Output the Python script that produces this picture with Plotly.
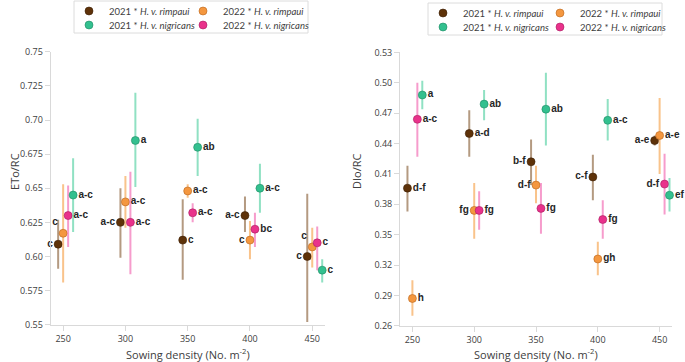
import plotly.graph_objects as go

# ---------------- data ----------------
densities = [250, 300, 350, 400, 450]
series_names = ["2021 * <i>H. v. rimpaui</i>", "2022 * <i>H. v. rimpaui</i>",
                "2021 * <i>H. v. nigricans</i>", "2022 * <i>H. v. nigricans</i>"]
x_offsets = [-4, 0, 8, 4]  # brown, orange, green, pink (dodge)

# ETo/RC (left panel): mean, lower, upper
eto_r21 = [0.609, 0.625, 0.612, 0.630, 0.600]
eto_r21_lo = [0.591, 0.599, 0.583, 0.618, 0.552]
eto_r21_hi = [0.627, 0.650, 0.642, 0.644, 0.646]
eto_r22 = [0.617, 0.640, 0.648, 0.612, 0.607]
eto_r22_lo = [0.581, 0.621, 0.643, 0.598, 0.592]
eto_r22_hi = [0.653, 0.659, 0.653, 0.626, 0.621]
eto_n21 = [0.645, 0.685, 0.680, 0.650, 0.590]
eto_n21_lo = [0.618, 0.651, 0.659, 0.632, 0.581]
eto_n21_hi = [0.672, 0.720, 0.701, 0.668, 0.598]
eto_n22 = [0.630, 0.625, 0.632, 0.620, 0.610]
eto_n22_lo = [0.607, 0.587, 0.625, 0.607, 0.590]
eto_n22_hi = [0.652, 0.662, 0.639, 0.632, 0.622]
eto_lab_r21 = ["c", "a-c", "c", "a-c", "c"]
eto_lab_r22 = ["c", "a-c", "a-c", "c", "c"]
eto_lab_n21 = ["a-c", "a", "ab", "a-c", "c"]
eto_lab_n22 = ["a-c", "a-c", "a-c", "bc", "c"]

# DIo/RC (right panel)
dio_r21 = [0.396, 0.450, 0.422, 0.407, 0.443]
dio_r21_lo = [0.373, 0.427, 0.399, 0.384, 0.438]
dio_r21_hi = [0.418, 0.473, 0.444, 0.429, 0.448]
dio_r22 = [0.287, 0.374, 0.399, 0.326, 0.448]
dio_r22_lo = [0.270, 0.346, 0.381, 0.310, 0.410]
dio_r22_hi = [0.305, 0.401, 0.418, 0.343, 0.485]
dio_n21 = [0.488, 0.479, 0.474, 0.463, 0.389]
dio_n21_lo = [0.474, 0.463, 0.438, 0.443, 0.373]
dio_n21_hi = [0.502, 0.493, 0.510, 0.484, 0.406]
dio_n22 = [0.464, 0.374, 0.376, 0.365, 0.400]
dio_n22_lo = [0.427, 0.355, 0.351, 0.346, 0.370]
dio_n22_hi = [0.500, 0.393, 0.401, 0.384, 0.430]
dio_lab_r21 = ["d-f", "a-d", "b-f", "c-f", "a-e"]
dio_lab_r22 = ["h", "fg", "d-f", "gh", "a-e"]
dio_lab_n21 = ["a", "ab", "ab", "a-c", "ef"]
dio_lab_n22 = ["a-c", "fg", "fg", "fg", "d-f"]

eto_ticks = [0.55, 0.575, 0.60, 0.625, 0.65, 0.675, 0.70, 0.725, 0.75]
eto_ticktext = ["0.55", "0.575", "0.60", "0.625", "0.65", "0.675", "0.70", "0.725", "0.75"]
dio_ticks = [0.26, 0.29, 0.32, 0.35, 0.38, 0.41, 0.44, 0.47, 0.50, 0.53]

# ---------------- styles ----------------
marker_colors = ["#5e3209", "#f4973f", "#33c08f", "#e9328b"]
bar_colors = ["rgba(140,100,62,0.65)", "rgba(247,170,90,0.7)",
              "rgba(70,205,155,0.6)", "rgba(240,90,170,0.6)"]
outline_colors = ["#3d2006", "#b8651c", "#1f8a63", "#a81d61"]
L = "middle left"
R = "middle right"
eto_pos = [
    [L, L, R, L, L],
    ["top left", R, R, L, "top left"],
    [R, R, R, R, R],
    [R, R, R, R, R],
]
dio_pos = [
    [R, R, L, L, L],
    [R, L, L, R, R],
    [R, R, R, R, R],
    [R, R, R, R, L],
]

eto = [(eto_r21, eto_r21_lo, eto_r21_hi, eto_lab_r21),
       (eto_r22, eto_r22_lo, eto_r22_hi, eto_lab_r22),
       (eto_n21, eto_n21_lo, eto_n21_hi, eto_lab_n21),
       (eto_n22, eto_n22_lo, eto_n22_hi, eto_lab_n22)]
dio = [(dio_r21, dio_r21_lo, dio_r21_hi, dio_lab_r21),
       (dio_r22, dio_r22_lo, dio_r22_hi, dio_lab_r22),
       (dio_n21, dio_n21_lo, dio_n21_hi, dio_lab_n21),
       (dio_n22, dio_n22_lo, dio_n22_hi, dio_lab_n22)]

W, H = 685, 362
fig = go.Figure()
draw_order = [0, 1, 3, 2]  # brown, orange, pink, green (green on top)
# one legend per entry: (marker x, marker y) in pixels for each series
panels = [(eto, eto_pos, "x", "y", 0, [(89, 11), (203, 11), (89, 25), (203, 25)]),
          (dio, dio_pos, "x2", "y2", 4, [(443, 13), (560, 13), (443, 27), (560, 27)])]
legends = {}
for data, pos, xa, ya, lbase, legpos in panels:
    for i in draw_order:
        mean, lo, hi, lab = data[i]
        xs = [d + x_offsets[i] for d in densities]
        lname = "legend" if lbase + i == 0 else "legend%d" % (lbase + i + 1)
        mx, my = legpos[i]
        legends[lname] = dict(orientation="h", xanchor="left", yanchor="middle",
                              x=(mx - 20) / W, y=1 - my / H,
                              bgcolor="rgba(0,0,0,0)", borderwidth=0,
                              font=dict(family="Lato", size=9.5, color="#404040"))
        fig.add_trace(go.Scatter(
            x=xs, y=mean, mode="markers",
            marker=dict(size=8, color=marker_colors[i],
                        line=dict(width=0.6, color=outline_colors[i])),
            error_y=dict(type="data", symmetric=False,
                         array=[h - m for h, m in zip(hi, mean)],
                         arrayminus=[m - l for m, l in zip(mean, lo)],
                         color=bar_colors[i], thickness=2, width=0),
            name=series_names[i],
            legend=lname,
            xaxis=xa, yaxis=ya,
            cliponaxis=False,
        ))
    for i in draw_order:
        mean, lo, hi, lab = data[i]
        xs = [d + x_offsets[i] for d in densities]
        fig.add_trace(go.Scatter(
            x=xs, y=mean, mode="markers+text", text=lab, textposition=pos[i],
            marker=dict(size=7, opacity=0),
            textfont=dict(family="Liberation Sans", size=10,
                          color="#262626", weight="bold"),
            showlegend=False, hoverinfo="skip",
            xaxis=xa, yaxis=ya, cliponaxis=False,
        ))

axis_common = dict(showline=True, linecolor="#d9d9d9", linewidth=1, ticks="outside",
                   ticklen=5, tickcolor="#d9d9d9", showgrid=False, zeroline=False,
                   tickfont=dict(family="Open Sans", size=9, color="#404040"))

title_font = dict(family="Open Sans", size=11, color="#404040")
fig.update_layout(
    width=W, height=H,
    margin=dict(l=0, r=0, t=0, b=0, autoexpand=False),
    paper_bgcolor="white", plot_bgcolor="white",
    showlegend=True,
    xaxis=dict(domain=[0.074, 0.474], range=[240, 460], tickvals=densities, anchor="y", **axis_common),
    yaxis=dict(domain=[0.103, 0.857], range=[0.55, 0.75], tickvals=eto_ticks, ticktext=eto_ticktext,
               anchor="x", **axis_common),
    xaxis2=dict(domain=[0.584, 0.981], range=[240, 460], tickvals=densities, anchor="y2", **axis_common),
    yaxis2=dict(domain=[0.100, 0.855], range=[0.26, 0.53], tickvals=dio_ticks, tickformat=".2f",
                anchor="x2", **axis_common),
    shapes=[
        dict(type="rect", xref="paper", yref="paper", x0=74 / W, x1=308 / W,
             y0=1 - 33 / H, y1=1 - 1 / H, line=dict(color="#dcdcdc", width=1),
             fillcolor="white", layer="below"),
        dict(type="rect", xref="paper", yref="paper", x0=428 / W, x1=662 / W,
             y0=1 - 35 / H, y1=1 - 3 / H, line=dict(color="#dcdcdc", width=1),
             fillcolor="white", layer="below"),
    ],
    annotations=[
        dict(text="ETo/RC", x=15 / W, y=0.525, xref="paper", yref="paper", textangle=-90,
             xanchor="center", yanchor="middle", showarrow=False, font=title_font),
        dict(text="DIo/RC", x=357 / W, y=0.525, xref="paper", yref="paper", textangle=-90,
             xanchor="center", yanchor="middle", showarrow=False, font=title_font),
        dict(text="Sowing density (No. m<sup>-2</sup>)", x=0.274, y=1 - 354 / H, xref="paper", yref="paper",
             xanchor="center", yanchor="middle", showarrow=False, font=title_font),
        dict(text="Sowing density (No. m<sup>-2</sup>)", x=0.783, y=1 - 354 / H, xref="paper", yref="paper",
             xanchor="center", yanchor="middle", showarrow=False, font=title_font),
    ],
)
fig.update_layout(**legends)

fig.write_html("out.html", config={"displayModeBar": False},
               post_script="document.body.style.margin='0';document.body.style.overflow='hidden';")
